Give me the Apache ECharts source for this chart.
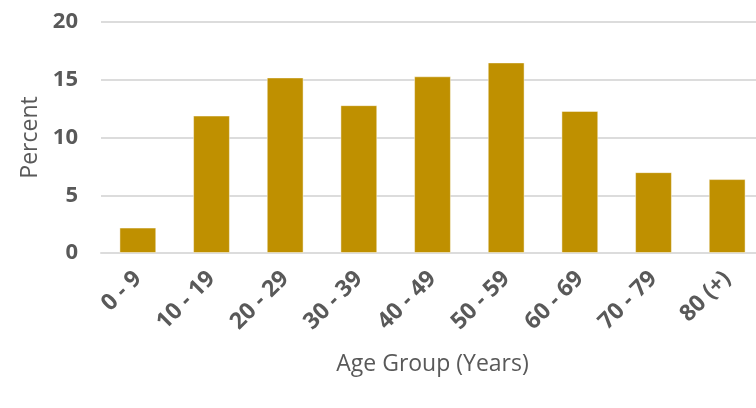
<!DOCTYPE html>
<html>
<head>
<meta charset="utf-8">
<style>
  html, body { margin: 0; padding: 0; background: #ffffff; overflow: hidden; }
  #chart { width: 764px; height: 408px; }
</style>
<script src="https://cdn.jsdelivr.net/npm/echarts@6/dist/echarts.min.js"></script>
</head>
<body>
<div id="chart"></div>
<script>
// Share of cases by age group (percent)
const ageGroups = ['0 - 9', '10 - 19', '20 - 29', '30 - 39', '40 - 49', '50 - 59', '60 - 69', '70 - 79', '80 (+)'];
const percentValues = [2.2, 11.9, 15.2, 12.8, 15.3, 16.5, 12.3, 7.0, 6.4];
const yTicks = [0, 5, 10, 15, 20];

const textGrey = '#595959';
const gridGrey = '#dcdcdc';
const fontFamily = '"Open Sans", "Noto Sans", sans-serif';

// The plot runs slightly past the right edge of the window
const chart = echarts.init(document.getElementById('chart'), null, { renderer: 'canvas' });

chart.setOption({
  animation: false,
  backgroundColor: '#ffffff',
  grid: { left: 101, right: 0, top: 22, bottom: 155, containLabel: false },
  xAxis: {
    type: 'category',
    data: ageGroups,
    name: 'Age Group (Years)',
    nameLocation: 'middle',
    nameGap: 100,
    nameTextStyle: { color: textGrey, fontSize: 23, fontFamily: fontFamily },
    axisLine: { show: true, lineStyle: { color: gridGrey, width: 2 } },
    axisTick: { show: false },
    axisLabel: {
      rotate: 45,
      interval: 0,
      margin: 22,
      align: 'right',
      verticalAlign: 'middle',
      color: textGrey,
      fontSize: 23,
      fontWeight: 'bold',
      fontFamily: fontFamily
    }
  },
  yAxis: {
    type: 'value',
    min: yTicks[0],
    max: yTicks[yTicks.length - 1],
    interval: yTicks[1] - yTicks[0],
    name: 'Percent',
    nameLocation: 'middle',
    nameGap: 55,
    nameRotate: 90,
    nameTextStyle: { color: textGrey, fontSize: 23, fontFamily: fontFamily },
    axisLine: { show: false },
    axisTick: { show: false },
    axisLabel: {
      margin: 23,
      color: textGrey,
      fontSize: 22,
      fontWeight: 'bold',
      fontFamily: fontFamily
    },
    splitLine: { show: true, lineStyle: { color: gridGrey, width: 2 } }
  },
  series: [{
    type: 'bar',
    data: percentValues,
    barWidth: '50%',
    itemStyle: {
      color: '#bf9000',
      borderColor: 'rgba(255,255,255,0.45)',
      borderWidth: 1
    }
  }]
});
</script>
</body>
</html>
